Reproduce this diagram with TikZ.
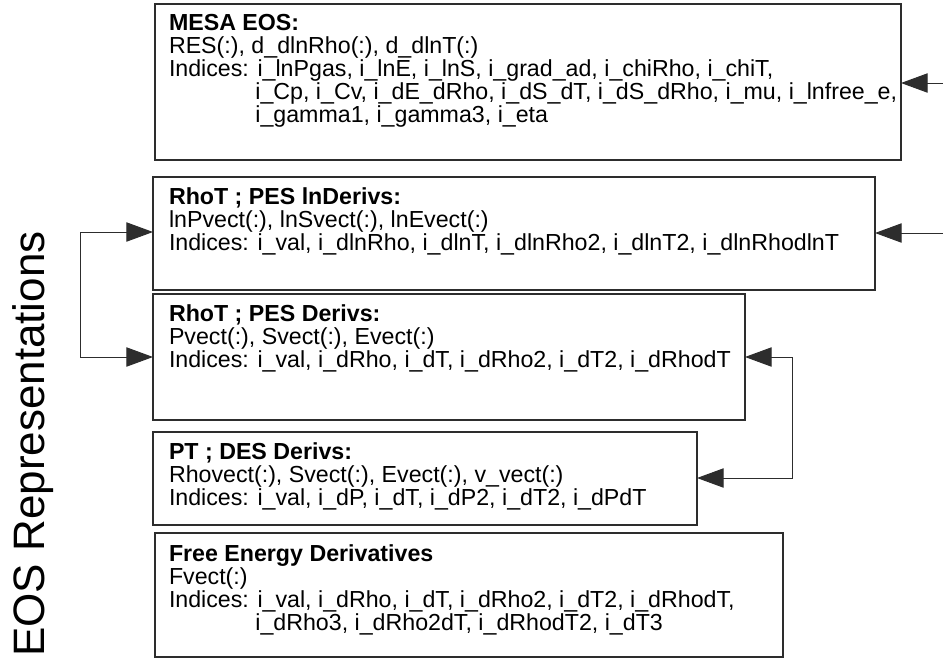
\documentclass[tikz,border=0pt]{standalone}
\usepackage{fontspec}
\setmainfont{Liberation Sans}
\usetikzlibrary{arrows.meta,fit}
\definecolor{linec}{RGB}{45,45,45}
\begin{document}
\begin{tikzpicture}[x=0.75pt,y=-0.75pt,
  box/.style={draw=linec, line width=0.9pt, inner sep=0pt, outer sep=0pt},
  txt/.style={anchor=north west, inner sep=0pt, outer sep=0pt, align=left,
    font=\fontsize{17.4}{17.25}\selectfont},
  conn/.style={draw=linec, line width=0.75pt},
  tipend/.style={-{Triangle[length=20pt,width=14.5pt]}},
  tipboth/.style={{Triangle[length=20pt,width=14.5pt]}-{Triangle[length=20pt,width=14.5pt]}},
  biglabel/.style={rotate=90, anchor=base, inner sep=0pt, font=\fontsize{33}{38}\selectfont}]
\useasboundingbox (0,0) rectangle (943,658);
\fill[white] (0,0) rectangle (943,658);

% boxes
\node[box, fit={(155,4) (901,160)}] (mesa) {};
\node[box, fit={(153,177) (875,290)}] (lnd) {};
\node[box, fit={(153,294) (745,420)}] (der) {};
\node[box, fit={(153,432) (697,525)}] (pt) {};
\node[box, fit={(155,533) (783,657)}] (free) {};

% texts
\node[txt] (mesaT) at (169,14) {\textbf{MESA EOS:}\\
RES(:), d\_dlnRho(:), d\_dlnT(:)\\
Indices: i\_lnPgas, i\_lnE, i\_lnS, i\_grad\_ad, i\_chiRho, i\_chiT,\\
\hphantom{Indices:\ }i\_Cp, i\_Cv, i\_dE\_dRho, i\_dS\_dT, i\_dS\_dRho, i\_mu, i\_lnfree\_e,\\
\hphantom{Indices:\ }i\_gamma1, i\_gamma3, i\_eta};

\node[txt] (lndT) at (169,188) {\textbf{RhoT ; PES lnDerivs:}\\
lnPvect(:), lnSvect(:), lnEvect(:)\\
Indices: i\_val, i\_dlnRho, i\_dlnT, i\_dlnRho2, i\_dlnT2, i\_dlnRhodlnT};

\node[txt] (derT) at (169,305) {\textbf{RhoT ; PES Derivs:}\\
Pvect(:), Svect(:), Evect(:)\\
Indices: i\_val, i\_dRho, i\_dT, i\_dRho2, i\_dT2, i\_dRhodT};

\node[txt] (ptT) at (169,443) {\textbf{PT ; DES Derivs:}\\
Rhovect(:), Svect(:), Evect(:), v\_vect(:)\\
Indices: i\_val, i\_dP, i\_dT, i\_dP2, i\_dT2, i\_dPdT};

\node[txt] (freeT) at (169,545) {\textbf{Free Energy Derivatives}\\
Fvect(:)\\
Indices: i\_val, i\_dRho, i\_dT, i\_dRho2, i\_dT2, i\_dRhodT,\\
\hphantom{Indices:\ }i\_dRho3, i\_dRho2dT, i\_dRhodT2, i\_dT3};

\node[biglabel] (lab) at (44,444) {EOS Representations};

% connectors
\coordinate (inA) at (943,83);
\coordinate (inB) at (943,233);
\draw[conn,tipend] (inA) -- (inA -| mesa.east);
\draw[conn,tipend] (inB) -- (inB -| lnd.east);

\coordinate (L1) at (80,232);
\coordinate (L2) at (80,357);
\draw[conn,tipboth] (L1 -| lnd.west) -- (L1) -- (L2) -- (L2 -| der.west);

\coordinate (R1) at (792,357);
\coordinate (R2) at (792,478);
\draw[conn,tipboth] (R1 -| der.east) -- (R1) -- (R2) -- (R2 -| pt.east);
\end{tikzpicture}
\end{document}
